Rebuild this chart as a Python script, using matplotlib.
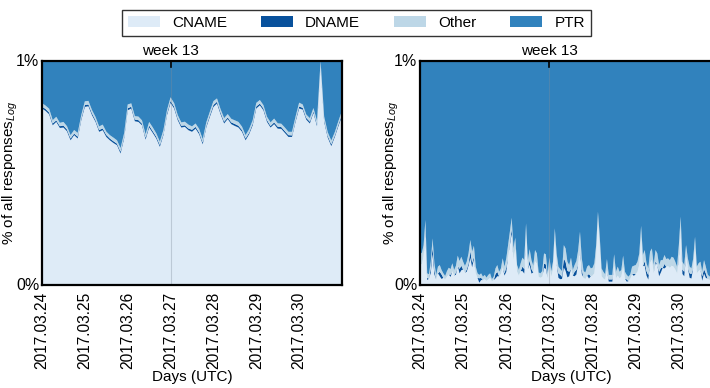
import numpy as np
import pandas as pd
import matplotlib
matplotlib.use('Agg')
from matplotlib import pyplot as plt
import matplotlib.dates as mdates
from matplotlib.patches import Patch

plt.rcParams['font.family'] = ['Liberation Sans', 'DejaVu Sans']
plt.rcParams['mathtext.fontset'] = 'custom'
plt.rcParams['mathtext.it'] = 'Liberation Sans:italic'

labels = ['CNAME', 'DNAME', 'Other', 'PTR']
colors = ['#deebf7', '#08519c', '#bdd7e7', '#3182bd']

# week 13 of 2017, share of responses per record type
day_ticks = pd.date_range('2017-03-24', '2017-03-30', freq='D')
week_start = pd.Timestamp('2017-03-27')

# left panel, 2-hourly
left_times = pd.date_range('2017-03-24 00:00', '2017-03-31 00:00', freq='2h')
left_cname = [0.788, 0.777, 0.762, 0.713, 0.728, 0.701, 0.703, 0.686, 0.646, 0.669,
              0.654, 0.736, 0.795, 0.798, 0.758, 0.728, 0.684, 0.691, 0.661, 0.646,
              0.634, 0.624, 0.587, 0.654, 0.780, 0.788, 0.731, 0.728, 0.713, 0.649,
              0.703, 0.679, 0.654, 0.617, 0.669, 0.758, 0.813, 0.788, 0.736, 0.703,
              0.706, 0.691, 0.684, 0.698, 0.673, 0.628, 0.703, 0.750, 0.795, 0.810,
              0.762, 0.721, 0.741, 0.718, 0.710, 0.703, 0.684, 0.646, 0.673, 0.713,
              0.788, 0.802, 0.780, 0.728, 0.703, 0.718, 0.698, 0.697, 0.679, 0.661,
              0.661, 0.728, 0.788, 0.783, 0.738, 0.721, 0.768, 0.709, 0.975, 0.728,
              0.658, 0.620, 0.661, 0.709, 0.753]
left_dname = [0.008, 0.009, 0.008, 0.008, 0.007, 0.008, 0.009, 0.008, 0.008, 0.007,
              0.008, 0.008, 0.009, 0.008, 0.008, 0.007, 0.008, 0.008, 0.009, 0.008,
              0.008, 0.007, 0.008, 0.008, 0.009, 0.008, 0.008, 0.008, 0.007, 0.008,
              0.009, 0.008, 0.008, 0.008, 0.007, 0.008, 0.009, 0.008, 0.008, 0.008,
              0.007, 0.008, 0.009, 0.008, 0.008, 0.008, 0.007, 0.008, 0.009, 0.008,
              0.008, 0.008, 0.007, 0.008, 0.009, 0.008, 0.008, 0.008, 0.007, 0.008,
              0.009, 0.008, 0.008, 0.008, 0.007, 0.008, 0.009, 0.008, 0.008, 0.008,
              0.007, 0.008, 0.009, 0.008, 0.008, 0.008, 0.007, 0.008, 0.004, 0.008,
              0.008, 0.008, 0.007, 0.008, 0.009]
left_other = [0.016, 0.015, 0.017, 0.015, 0.016, 0.015, 0.016, 0.015, 0.015, 0.016,
              0.017, 0.015, 0.016, 0.016, 0.015, 0.015, 0.016, 0.017, 0.015, 0.015,
              0.016, 0.015, 0.016, 0.016, 0.017, 0.015, 0.015, 0.016, 0.015, 0.016,
              0.016, 0.017, 0.015, 0.015, 0.016, 0.015, 0.016, 0.016, 0.015, 0.015,
              0.016, 0.017, 0.015, 0.015, 0.016, 0.015, 0.016, 0.016, 0.017, 0.015,
              0.015, 0.016, 0.015, 0.016, 0.016, 0.017, 0.015, 0.015, 0.016, 0.015,
              0.016, 0.016, 0.015, 0.015, 0.016, 0.017, 0.015, 0.015, 0.016, 0.015,
              0.016, 0.016, 0.017, 0.015, 0.015, 0.016, 0.015, 0.016, 0.021, 0.016,
              0.016, 0.017, 0.015, 0.015, 0.016]

# right panel, hourly
right_times = pd.date_range('2017-03-24 00:00', '2017-03-31 00:00', freq='h')
right_cname = [0.099, 0.091, 0.128, 0.230, 0.022, 0.028, 0.054, 0.138, 0.047, 0.025,
               0.052, 0.039, 0.027, 0.032, 0.025, 0.037, 0.047, 0.036, 0.062, 0.042,
               0.046, 0.086, 0.052, 0.066, 0.069, 0.055, 0.059, 0.086, 0.121, 0.079,
               0.115, 0.052, 0.032, 0.010, 0.022, 0.022, 0.025, 0.018, 0.025, 0.032,
               0.016, 0.022, 0.029, 0.039, 0.039, 0.049, 0.079, 0.042, 0.059, 0.128,
               0.178, 0.230, 0.113, 0.161, 0.059, 0.042, 0.062, 0.062, 0.051, 0.225,
               0.071, 0.090, 0.051, 0.056, 0.106, 0.096, 0.036, 0.032, 0.037, 0.076,
               0.072, 0.032, 0.082, 0.037, 0.069, 0.203, 0.096, 0.032, 0.026, 0.027,
               0.078, 0.063, 0.034, 0.039, 0.072, 0.042, 0.039, 0.047, 0.096, 0.168,
               0.049, 0.032, 0.026, 0.042, 0.029, 0.039, 0.042, 0.052, 0.128, 0.287,
               0.165, 0.039, 0.029, 0.023, 0.066, 0.015, 0.015, 0.015, 0.087, 0.029,
               0.042, 0.029, 0.037, 0.081, 0.029, 0.015, 0.017, 0.028, 0.047, 0.041,
               0.049, 0.059, 0.091, 0.214, 0.084, 0.086, 0.042, 0.024, 0.099, 0.113,
               0.054, 0.096, 0.091, 0.039, 0.056, 0.076, 0.074, 0.081, 0.084, 0.076,
               0.086, 0.082, 0.069, 0.052, 0.118, 0.255, 0.049, 0.039, 0.128, 0.079,
               0.032, 0.029, 0.079, 0.165, 0.052, 0.062, 0.069, 0.019, 0.051, 0.032,
               0.028, 0.022, 0.032, 0.039, 0.025, 0.039, 0.042, 0.032, 0.025]
right_dname = [0.00, 0.00, 0.00, 0.01, 0.01, 0.00, 0.02, 0.03, 0.02, 0.00,
               0.00, 0.02, 0.02, 0.00, 0.00, 0.00, 0.00, 0.01, 0.00, 0.00,
               0.01, 0.00, 0.02, 0.02, 0.00, 0.00, 0.01, 0.01, 0.03, 0.02,
               0.01, 0.00, 0.00, 0.02, 0.01, 0.00, 0.00, 0.00, 0.00, 0.00,
               0.00, 0.00, 0.02, 0.02, 0.00, 0.00, 0.00, 0.01, 0.02, 0.00,
               0.01, 0.02, 0.00, 0.00, 0.00, 0.00, 0.00, 0.02, 0.02, 0.00,
               0.00, 0.02, 0.02, 0.00, 0.00, 0.00, 0.00, 0.00, 0.00, 0.02,
               0.02, 0.00, 0.00, 0.00, 0.00, 0.00, 0.00, 0.02, 0.02, 0.01,
               0.04, 0.04, 0.03, 0.02, 0.00, 0.00, 0.02, 0.02, 0.00, 0.01,
               0.02, 0.00, 0.00, 0.00, 0.02, 0.00, 0.00, 0.00, 0.00, 0.00,
               0.00, 0.00, 0.00, 0.00, 0.00, 0.01, 0.01, 0.01, 0.00, 0.00,
               0.00, 0.00, 0.00, 0.00, 0.00, 0.01, 0.00, 0.00, 0.00, 0.01,
               0.00, 0.00, 0.00, 0.00, 0.00, 0.02, 0.02, 0.02, 0.00, 0.00,
               0.00, 0.01, 0.00, 0.02, 0.02, 0.00, 0.02, 0.00, 0.00, 0.00,
               0.00, 0.00, 0.00, 0.00, 0.01, 0.00, 0.02, 0.02, 0.00, 0.00,
               0.02, 0.02, 0.00, 0.00, 0.00, 0.00, 0.00, 0.02, 0.02, 0.02,
               0.00, 0.00, 0.00, 0.01, 0.00, 0.00, 0.01, 0.00, 0.00]
right_other = [0.050, 0.050, 0.050, 0.050, 0.020, 0.020, 0.030, 0.040, 0.030, 0.020,
               0.030, 0.030, 0.020, 0.020, 0.015, 0.025, 0.030, 0.025, 0.035, 0.025,
               0.030, 0.045, 0.035, 0.040, 0.035, 0.030, 0.035, 0.045, 0.050, 0.050,
               0.050, 0.030, 0.020, 0.015, 0.020, 0.015, 0.020, 0.015, 0.020, 0.020,
               0.010, 0.015, 0.025, 0.030, 0.020, 0.025, 0.040, 0.030, 0.040, 0.050,
               0.050, 0.050, 0.050, 0.050, 0.030, 0.025, 0.035, 0.040, 0.040, 0.050,
               0.040, 0.050, 0.040, 0.030, 0.050, 0.045, 0.020, 0.020, 0.025, 0.045,
               0.045, 0.020, 0.040, 0.025, 0.035, 0.050, 0.045, 0.030, 0.025, 0.025,
               0.060, 0.060, 0.040, 0.030, 0.050, 0.025, 0.030, 0.040, 0.060, 0.060,
               0.050, 0.030, 0.030, 0.040, 0.040, 0.035, 0.035, 0.045, 0.050, 0.040,
               0.050, 0.035, 0.030, 0.025, 0.050, 0.020, 0.020, 0.020, 0.050, 0.030,
               0.040, 0.030, 0.030, 0.050, 0.030, 0.020, 0.020, 0.020, 0.035, 0.035,
               0.040, 0.045, 0.050, 0.050, 0.050, 0.050, 0.035, 0.030, 0.050, 0.050,
               0.035, 0.050, 0.050, 0.030, 0.035, 0.035, 0.040, 0.035, 0.035, 0.035,
               0.040, 0.040, 0.035, 0.030, 0.050, 0.050, 0.035, 0.030, 0.050, 0.040,
               0.030, 0.025, 0.040, 0.050, 0.030, 0.035, 0.035, 0.020, 0.040, 0.030,
               0.020, 0.015, 0.020, 0.025, 0.020, 0.020, 0.030, 0.020, 0.020]

fig = plt.figure(figsize=(7.1, 3.88), dpi=100)
ax_left = fig.add_axes([42 / 710, 103 / 388, 300 / 710, 224 / 388])
ax_right = fig.add_axes([420 / 710, 103 / 388, 302 / 710, 224 / 388])

panels = [(ax_left, left_times, left_cname, left_dname, left_other, -0.072),
          (ax_right, right_times, right_cname, right_dname, right_other, -0.062)]

for ax, times, cname, dname, other, ylab_x in panels:
    cname, dname, other = np.array(cname), np.array(dname), np.array(other)
    ptr = 1.0 - cname - dname - other  # PTR is the rest of the stack
    ax.stackplot(times, cname, dname, other, ptr, colors=colors, linewidth=0)

    ax.axvline(week_start, color='#7f8c99', alpha=0.35, lw=0.8)
    ax.axvline(week_start, ymin=0.975, ymax=1.0, color='black', lw=1.2)
    ax.text(week_start, 1.015, 'week 13', ha='center', va='bottom', fontsize=11,
            transform=ax.get_xaxis_transform())

    ax.set_xlim(times[0], times[-1])
    ax.set_ylim(0, 1)
    ax.set_xticks(day_ticks)
    ax.xaxis.set_major_formatter(mdates.DateFormatter('%Y.%m.%d'))
    ax.set_yticks([0, 1])
    ax.set_yticklabels(['0%', '1%'])
    ax.tick_params(axis='x', length=0, pad=5, labelsize=11.2, labelrotation=90)
    ax.tick_params(axis='y', length=0, pad=2, labelsize=11.5)
    for lbl in ax.get_yticklabels():
        lbl.set_verticalalignment('center')
    for spine in ax.spines.values():
        spine.set_linewidth(1.6)
    ax.set_xlabel('Days (UTC)', fontsize=11)
    ax.xaxis.set_label_coords(0.5, -0.378)
    ax.set_ylabel(r'% of all responses$_{Log}$', fontsize=11)
    ax.yaxis.set_label_coords(ylab_x, 0.5)

handles = [Patch(facecolor=c, edgecolor='none') for c in colors]
leg = fig.legend(handles, labels, loc='upper center', bbox_to_anchor=(0.502, 0.995),
                 ncol=4, fontsize=11, frameon=True, fancybox=False,
                 handlelength=2.1, handleheight=0.7, handletextpad=0.8,
                 columnspacing=2.2, borderpad=0.4)
leg.get_frame().set_edgecolor('black')
leg.get_frame().set_linewidth(1.0)

plt.savefig('out.png', dpi=100)
